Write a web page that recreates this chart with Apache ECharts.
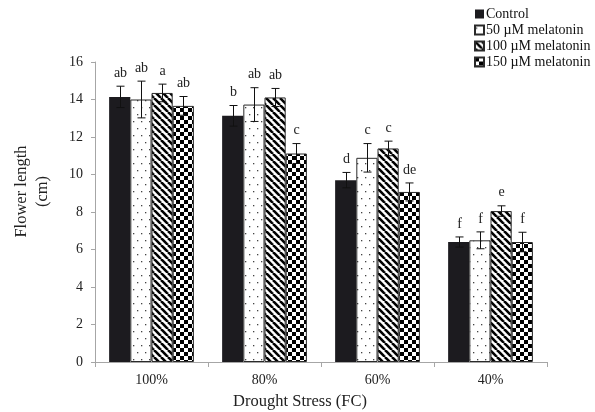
<!DOCTYPE html>
<html><head><meta charset="utf-8">
<script src="https://cdn.jsdelivr.net/npm/echarts@6/dist/echarts.min.js"></script>
<style>html,body{margin:0;padding:0;background:#fff}#c{width:595px;height:412px}</style>
</head><body><div id="c"></div>
<script>
const categories = ['100%', '80%', '60%', '40%'];
const seriesNames = ['Control', '50 µM melatonin', '100 µM melatonin', '150 µM melatonin'];
const control = [14.14, 13.13, 9.70, 6.40];
const mel50 = [14.00, 13.73, 10.89, 6.49];
const mel100 = [14.35, 14.11, 11.39, 8.05];
const mel150 = [13.66, 11.12, 9.07, 6.40];
const errControl = [0.57, 0.55, 0.41, 0.27];
const err50 = [0.98, 0.90, 0.76, 0.45];
const err100 = [0.47, 0.48, 0.39, 0.28];
const err150 = [0.50, 0.53, 0.48, 0.52];
const lettersControl = ['ab', 'b', 'd', 'f'];
const letters50 = ['ab', 'ab', 'c', 'f'];
const letters100 = ['a', 'ab', 'c', 'e'];
const letters150 = ['ab', 'c', 'de', 'f'];
const yTicks = [0, 2, 4, 6, 8, 10, 12, 14, 16];

const values = [control, mel50, mel100, mel150];
const errs = [errControl, err50, err100, err150];
const letters = [lettersControl, letters50, letters100, letters150];

function mk(w, h, draw) {
  const c = document.createElement('canvas'); c.width = w; c.height = h;
  const g = c.getContext('2d'); g.fillStyle = '#fff'; g.fillRect(0, 0, w, h); draw(g); return c;
}
const dots = mk(8, 14, g => { g.fillStyle = '#444'; g.fillRect(1, 2, 1.3, 1.3); g.fillRect(5, 9, 1.3, 1.3); });
const stripes = mk(7, 7, g => {
  g.strokeStyle = '#000'; g.lineWidth = 2.6;
  for (let k = -1; k <= 1; k++) { g.beginPath(); g.moveTo(k * 7, 0); g.lineTo(k * 7 + 7, 7); g.stroke(); }
});
const checker = mk(8, 8, g => { g.fillStyle = '#000'; g.fillRect(0, 0, 4, 4); g.fillRect(4, 4, 4, 4); });
const fills = ['#1c1b1f', { image: dots, repeat: 'repeat' }, { image: stripes, repeat: 'repeat' }, { image: checker, repeat: 'repeat' }];

const FONT = 'Liberation Serif';
const GAP = 0.25;
const series = [];
for (let s = 0; s < 4; s++) {
  series.push({
    type: 'bar', name: seriesNames[s], data: values[s],
    barGap: '0%', barCategoryGap: (GAP * 100) + '%',
    itemStyle: { color: fills[s], borderColor: '#2a2a2a', borderWidth: s === 0 ? 0 : 1 },
    emphasis: { disabled: true }
  });
}
for (let s = 0; s < 4; s++) {
  series.push({
    type: 'custom', z: 10, silent: true,
    data: values[s].map((v, i) => [i, v, errs[s][i]]),
    encode: { x: 0, y: 1 },
    renderItem: (params, api) => {
      const ci = api.value(0), v = api.value(1), e = api.value(2);
      const lbl = letters[s][params.dataIndex];
      const c = api.coord([ci, v]);
      const cw = api.size([1, 0])[0];
      const bw = cw * (1 - GAP) / 4;
      const x = Math.round(c[0] - 2 * bw + (s + 0.5) * bw) + 0.5;
      const top = api.coord([ci, v + e])[1], bot = api.coord([ci, v - e])[1];
      const st = { stroke: '#111', lineWidth: 1 };
      return {
        type: 'group', children: [
          { type: 'line', shape: { x1: x, y1: top, x2: x, y2: bot }, style: st },
          { type: 'line', shape: { x1: x - 4, y1: top, x2: x + 4, y2: top }, style: st },
          { type: 'line', shape: { x1: x - 4, y1: bot, x2: x + 4, y2: bot }, style: st },
          { type: 'text', style: { text: lbl, x: x, y: top - 6, align: 'center', verticalAlign: 'bottom', font: '14px "' + FONT + '"', fill: '#222' } }
        ]
      };
    }
  });
}

const chart = echarts.init(document.getElementById('c'));
chart.setOption({
  animation: false,
  textStyle: { fontFamily: FONT },
  grid: { left: 95, right: 48, top: 62, bottom: 50, containLabel: false, outerBoundsMode: 'none' },
  legend: {
    data: seriesNames, orient: 'vertical', left: 469, top: 2,
    itemWidth: 9, itemHeight: 9, itemGap: 2, icon: 'rect',
    textStyle: { fontFamily: FONT, fontSize: 14, color: '#111', padding: [0, 0, 0, -3] }
  },
  xAxis: {
    type: 'category', data: categories,
    axisLine: { lineStyle: { color: '#a6a6a6' } },
    axisTick: { show: true, length: 5, lineStyle: { color: '#a6a6a6' } },
    axisLabel: { fontFamily: FONT, fontSize: 14, color: '#222', margin: 11 },
    name: 'Drought Stress (FC)', nameLocation: 'middle', nameGap: 31,
    nameTextStyle: { fontFamily: FONT, fontSize: 16.5, color: '#222', padding: [0, 42, 0, 0] }
  },
  yAxis: {
    type: 'value', min: 0, max: 16, interval: 2,
    axisLine: { show: true, lineStyle: { color: '#a6a6a6' } },
    axisTick: { show: true, length: 4, lineStyle: { color: '#a6a6a6' } },
    splitLine: { show: false },
    axisLabel: { fontFamily: FONT, fontSize: 14, color: '#222', margin: 12,
      formatter: v => yTicks.includes(v) ? String(v) : '' },
    name: 'Flower length\n(cm)', nameLocation: 'middle', nameGap: 42, nameRotate: 90,
    nameTextStyle: { fontFamily: FONT, fontSize: 16.5, color: '#222', lineHeight: 21, padding: [0, 0, 0, 41] }
  },
  series: series
});
</script></body></html>
